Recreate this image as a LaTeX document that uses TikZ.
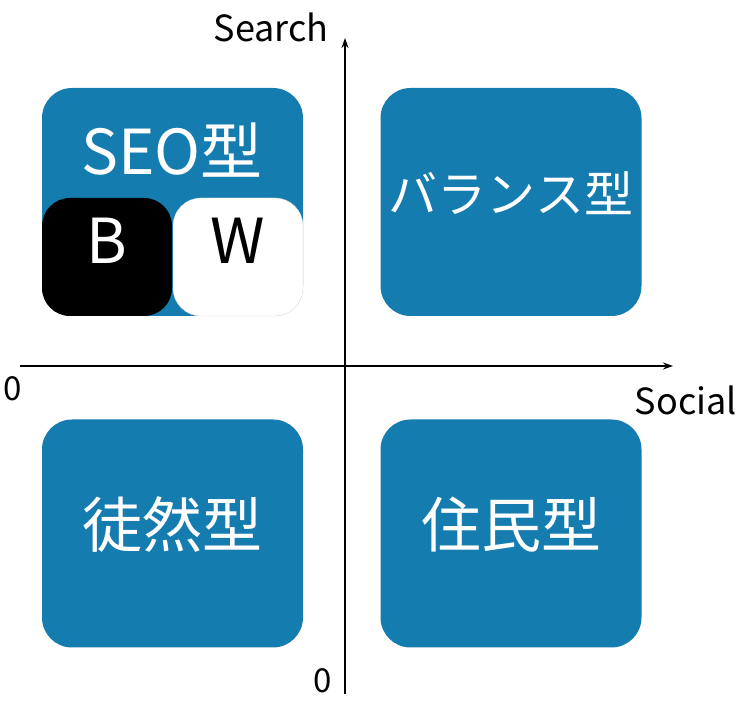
\documentclass[tikz,border=0pt]{standalone}
\usepackage{fontspec}
\setmainfont{Noto Sans CJK JP}
\usetikzlibrary{arrows.meta, positioning}
\definecolor{quadblue}{RGB}{21,124,176}

\begin{document}
\begin{tikzpicture}[x=1pt, y=-1pt,
    quad/.style={fill=quadblue, rounded corners=30pt, minimum width=261pt, minimum height=228pt, inner sep=0pt},
    half/.style={rounded corners=28pt, minimum width=130pt, minimum height=118pt, inner sep=0pt},
    axis/.style={line width=1.6pt, -{Stealth[length=10pt, width=7pt]}},
    every node/.style={align=center}]
    \useasboundingbox (0,0) rectangle (756,708);
    % Quadrants
    \node[quad] (seo) at (172.5,202) {};
    \node[quad] (balance) at (511,202) {};
    \node[quad] (tsure) at (172.5,533.5) {};
    \node[quad] (jumin) at (511,533.5) {};
    \node[half, fill=black, anchor=south west] (bbox) at (seo.south west) {};
    \node[half, fill=white, draw=black!15, anchor=south east] (wbox) at (seo.south east) {};

    % Labels
    \node[text=white, font=\fontsize{62}{62}\selectfont] (seolabel) at (172,150) {SEO型};
    \node[text=white, font=\fontsize{62}{62}\selectfont, yshift=16pt] at (bbox) {B};
    \node[font=\fontsize{62}{62}\selectfont, yshift=16pt] at (wbox) {W};
    \node[text=white, font=\fontsize{49}{49}\selectfont] at (balance) {\raisebox{20pt}{バランス型}};
    \node[text=white, font=\fontsize{60}{60}\selectfont] at (tsure) {\raisebox{22pt}{徒然型}};
    \node[text=white, font=\fontsize{60}{60}\selectfont] at (jumin) {\raisebox{22pt}{住民型}};

    % Axes
    \coordinate (xstart) at (20,366);
    \coordinate (xend) at (673,366);
    \coordinate (ystart) at (345,694);
    \coordinate (yend) at (345,38);
    \draw[axis] (xstart) -- (xend);
    \draw[axis] (ystart) -- (yend);
    \node[font=\fontsize{36}{36}\selectfont] (search) at (271,27) {Search};
    \node[font=\fontsize{36}{36}\selectfont] (social) at (686,400) {Social};
    \node[font=\fontsize{33}{33}\selectfont] (xzero) at (13,389) {0};
    \node[font=\fontsize{33}{33}\selectfont] (yzero) at (323,681) {0};
\end{tikzpicture}
\end{document}
